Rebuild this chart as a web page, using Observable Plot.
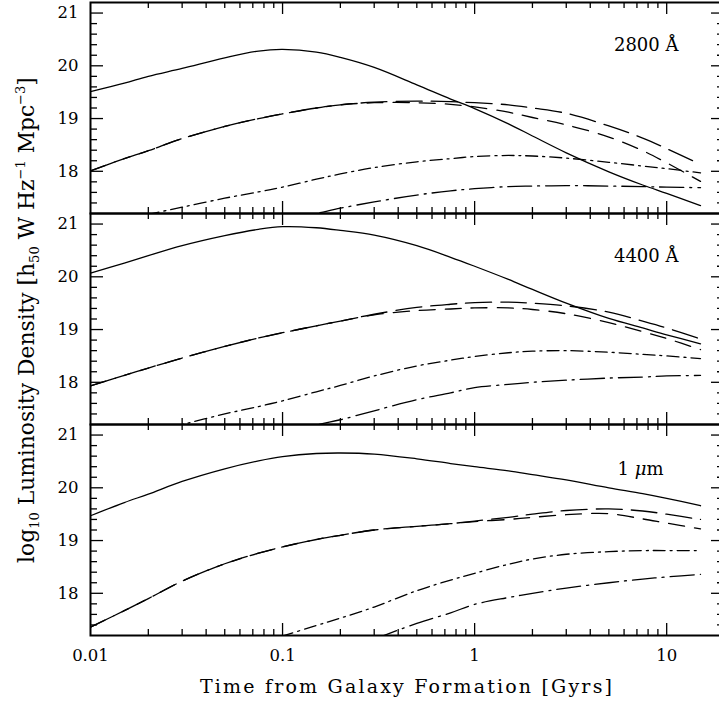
<!DOCTYPE html>
<html>
<head>
<meta charset="utf-8">
<script src="https://cdn.jsdelivr.net/npm/d3@7"></script>
<script src="https://cdn.jsdelivr.net/npm/@observablehq/plot@0.6"></script>
<style>
  html, body { margin: 0; padding: 0; background: #fff; overflow: hidden; }
  #chart { width: 719px; height: 706px; overflow: hidden; }
  #chart svg { display: block; max-width: none !important; width: 724px !important; height: 706px !important; }
</style>
</head>
<body>
<div id="chart"></div>
<script>
// ---------- data ----------
const panels = ["2800 Å", "4400 Å", "1 μm"];
const times = [0.01, 0.015, 0.02, 0.03, 0.05, 0.075, 0.1, 0.15, 0.2, 0.3, 0.5, 0.75, 1, 1.5, 2, 3, 5, 7.5, 10, 15];

// 2800 Å
const solid2800       = [19.51,19.67,19.80,19.95,20.15,20.28,20.31,20.26,20.16,19.97,19.64,19.37,19.19,18.90,18.67,18.35,17.99,17.74,17.58,17.35];
const longDash2800    = [18.01,18.24,18.39,18.62,18.85,19.00,19.09,19.20,19.26,19.31,19.33,19.32,19.30,19.26,19.20,19.10,18.86,18.63,18.43,18.13];
const shortDash2800   = [18.01,18.24,18.39,18.62,18.85,19.00,19.09,19.20,19.26,19.30,19.30,19.27,19.22,19.12,19.02,18.88,18.65,18.39,18.16,17.81];
const dashDot2800     = [null,17.05,17.18,17.32,17.49,17.61,17.70,17.85,17.95,18.07,18.18,18.24,18.28,18.30,18.29,18.25,18.17,18.10,18.05,17.97];
const longDashDot2800 = [null,null,null,null,null,null,17.07,17.20,17.30,17.42,17.55,17.63,17.67,17.71,17.72,17.73,17.72,17.71,17.70,17.69];

// 4400 Å
const solid4400       = [20.07,20.26,20.40,20.59,20.78,20.90,20.95,20.93,20.88,20.79,20.59,20.37,20.20,19.95,19.76,19.50,19.21,19.03,18.90,18.73];
const longDash4400    = [17.93,18.13,18.27,18.46,18.68,18.84,18.94,19.07,19.16,19.29,19.42,19.48,19.51,19.52,19.50,19.45,19.33,19.16,19.03,18.82];
const shortDash4400   = [17.93,18.13,18.27,18.46,18.68,18.84,18.94,19.07,19.16,19.28,19.36,19.39,19.41,19.41,19.38,19.30,19.13,18.96,18.83,18.62];
const dashDot4400     = [null,null,17.05,17.20,17.40,17.54,17.65,17.82,17.94,18.12,18.31,18.42,18.49,18.56,18.59,18.60,18.57,18.53,18.50,18.45];
const longDashDot4400 = [null,null,null,null,null,null,17.00,17.19,17.29,17.46,17.67,17.80,17.90,17.96,18.00,18.04,18.08,18.10,18.12,18.13];

// 1 μm
const solid1um        = [19.47,19.72,19.88,20.12,20.36,20.51,20.59,20.65,20.66,20.64,20.55,20.46,20.40,20.32,20.25,20.15,20.00,19.89,19.80,19.66];
const longDash1um     = [17.36,17.67,17.90,18.23,18.56,18.76,18.88,19.02,19.10,19.20,19.27,19.32,19.37,19.44,19.50,19.57,19.60,19.56,19.50,19.40];
const shortDash1um    = [17.36,17.67,17.90,18.23,18.56,18.76,18.88,19.02,19.10,19.20,19.27,19.32,19.36,19.40,19.44,19.49,19.51,19.41,19.33,19.22];
const dashDot1um      = [null,null,null,null,null,17.05,17.19,17.39,17.53,17.74,18.05,18.25,18.38,18.55,18.65,18.74,18.79,18.81,18.81,18.81];
const longDashDot1um  = [null,null,null,null,null,null,null,null,null,17.13,17.43,17.63,17.79,17.92,18.00,18.10,18.20,18.27,18.31,18.36];

const xTickLabels = [0.01, 0.1, 1, 10];
const yTickLabels = [18, 19, 20, 21];
const xDomain = [0.01, 20];
const yDomain = [17.2, 21.2];

// ---------- assemble table ----------
const seriesNames = ["solid", "longDash", "shortDash", "dashDot", "longDashDot"];
const seriesByPanel = [
  [solid2800, longDash2800, shortDash2800, dashDot2800, longDashDot2800],
  [solid4400, longDash4400, shortDash4400, dashDot4400, longDashDot4400],
  [solid1um, longDash1um, shortDash1um, dashDot1um, longDashDot1um]
];
const rows = [];
panels.forEach((p, i) => {
  seriesNames.forEach((s, k) => {
    seriesByPanel[i][k].forEach((v, j) => {
      if (v != null) rows.push({panel: p, series: s, t: times[j], v});
    });
  });
});

// ---------- layout & styles ----------
const W = 724, H = 706, mL = 90, mR = 0, mT = 2, mB = 71;
const facetH = (H - mT - mB) / 3;
const plotW = W - mL - mR;
const pxPerY = facetH / (yDomain[1] - yDomain[0]);
const pxPerDecade = plotW / Math.log10(xDomain[1] / xDomain[0]);
const dash = {solid: null, longDash: "26,9", shortDash: "16,10", dashDot: "12,5,2,5", longDashDot: "24,6,2,6"};

const logTicks = d3.scaleLog().domain(xDomain).ticks().filter(d => d > xDomain[0] * 1.001 && d < xDomain[1] * 0.999);
const isLabel = d => xTickLabels.some(m => Math.abs(m - d) / m < 1e-6);
const xMajorTicks = logTicks.filter(isLabel);
const xMinorTicks = logTicks.filter(d => !isLabel(d));
const yAll = d3.ticks(yDomain[0], yDomain[1], 20).filter(d => d > yDomain[0] + 1e-6 && d < yDomain[1] - 1e-6);
const yMajorTicks = yAll.filter(d => Math.abs(d - Math.round(d)) < 1e-6);
const yMinorTicks = yAll.filter(d => Math.abs(d - Math.round(d)) >= 1e-6);

const perPanel = vals => panels.flatMap(p => vals.map(v => ({panel: p, v})));
const tickStroke = 1.3;
const marks = [];

// inward ticks on all four sides of every panel
function xTicks(vals, len) {
  const dy = len / pxPerY;
  marks.push(Plot.ruleX(perPanel(vals), {x: "v", fy: "panel", y1: yDomain[1], y2: yDomain[1] - dy, strokeWidth: tickStroke}));
  marks.push(Plot.ruleX(perPanel(vals), {x: "v", fy: "panel", y1: yDomain[0], y2: yDomain[0] + dy, strokeWidth: tickStroke}));
}
function yTicks(vals, len) {
  const f = Math.pow(10, len / pxPerDecade);
  marks.push(Plot.ruleY(perPanel(vals), {y: "v", fy: "panel", x1: xDomain[0], x2: xDomain[0] * f, strokeWidth: tickStroke}));
  marks.push(Plot.ruleY(perPanel(vals), {y: "v", fy: "panel", x1: xDomain[1], x2: xDomain[1] / f, strokeWidth: tickStroke}));
}
xTicks(xMajorTicks, 12);
xTicks(xMinorTicks, 6);
yTicks(yMajorTicks, 13);
yTicks(yMinorTicks, 7);

// curves
seriesNames.forEach(s => {
  marks.push(Plot.line(rows.filter(r => r.series === s), {
    x: "t", y: "v", fy: "panel", z: "panel",
    stroke: "black", strokeWidth: 1.3,
    strokeDasharray: dash[s], curve: "catmull-rom", clip: true
  }));
});

// axes labels
marks.push(Plot.axisY(yTickLabels, {anchor: "left", tickSize: 0, tickPadding: 12, fontSize: 16.5, tickFormat: d => String(d), label: null}));
marks.push(Plot.axisX(xTickLabels, {anchor: "bottom", tickSize: 0, tickPadding: 14, fontSize: 16.5, tickFormat: d => String(d), label: null}));

// panel annotations
marks.push(Plot.text(panels.slice(0, 2), {fy: d => d, text: d => d, frameAnchor: "top-right", textAnchor: "end", dx: -46, dy: 36, fontSize: 18}));
marks.push(Plot.text(panels.slice(2), {fy: d => d, text: d => d, frameAnchor: "top-right", textAnchor: "end", dx: -61, dy: 38, fontSize: 18}));

// frames
marks.push(Plot.frame({strokeWidth: 2}));

const chart = Plot.plot({
  width: W, height: H,
  marginLeft: mL, marginRight: mR, marginTop: mT, marginBottom: mB,
  style: {fontFamily: "'DejaVu Serif', serif", fontSize: "16.5px", color: "black", background: "white"},
  x: {type: "log", domain: xDomain, axis: null},
  y: {domain: yDomain, axis: null},
  fy: {domain: panels, paddingInner: 0, paddingOuter: 0, axis: null},
  marks
});
document.getElementById("chart").appendChild(chart);

// ---------- rich text: axis titles & italic mu ----------
const svg = d3.select(chart);
svg.selectAll("text").filter(function() { return this.textContent === "1 μm"; }).each(function() {
  const t = d3.select(this);
  t.text(null);
  t.append("tspan").text("1 ");
  t.append("tspan").attr("font-style", "italic").text("μ");
  t.append("tspan").text("m");
});

svg.append("text")
  .attr("x", 406).attr("y", 693)
  .attr("text-anchor", "middle")
  .attr("font-family", "'DejaVu Serif', serif")
  .attr("font-size", 19)
  .attr("textLength", 412).attr("lengthAdjust", "spacing")
  .attr("fill", "black")
  .text("Time from Galaxy Formation [Gyrs]");

// y title: fitted so its glyphs run from y≈77 (top) to y≈563 (bottom), baseline at x≈34
const yTitleTop = 77, yTitleBottom = 563, yTitleBaseline = 34;
const yl = svg.append("text")
  .attr("text-anchor", "start")
  .attr("font-family", "'DejaVu Serif', serif")
  .attr("fill", "black");
const parts = [
  ["log", 0, 1], ["10", 0.23, 0.6], [" Luminosity Density [h", -0.23, 1], ["50", 0.23, 0.6],
  [" W Hz", -0.23, 1], ["−1", -0.4, 0.6], [" Mpc", 0.4, 1], ["−3", -0.4, 0.6], ["]", 0.4, 1]
];
function setTitleSize(fs) {
  yl.selectAll("tspan").remove();
  parts.forEach(([txt, dy, f]) => {
    yl.append("tspan").attr("dy", dy * fs).attr("font-size", f * fs).text(txt);
  });
}
let fs = 22;
setTitleSize(fs);
let bb = yl.node().getBBox();
fs = fs * (yTitleBottom - yTitleTop) / bb.width;
setTitleSize(fs);
bb = yl.node().getBBox();
// rotate(-90): local x -> screen -y ; local y -> screen x
const ty = (yTitleTop + yTitleBottom) / 2 + (bb.x + bb.width / 2);
yl.attr("transform", `translate(${yTitleBaseline},${ty}) rotate(-90)`);
</script>
</body>
</html>
